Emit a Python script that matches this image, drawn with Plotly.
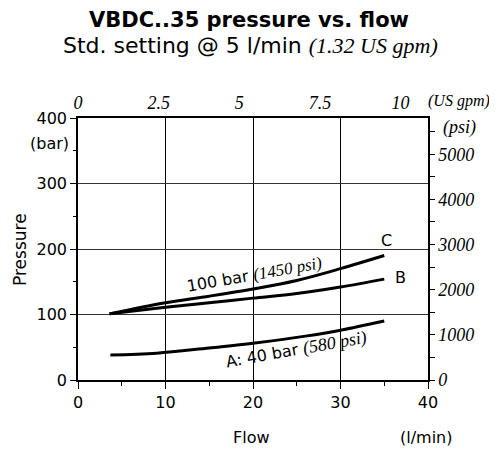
import plotly.graph_objects as go

# curve data: flow (l/min) -> pressure (bar)
flow_c = [3.6, 10, 15, 20, 25, 30, 35]
pres_c = [101, 118, 128, 139, 152, 170, 190]

flow_b = [3.6, 10, 15, 20, 25, 30, 35]
pres_b = [101, 111, 118, 125, 132, 142, 154]

flow_a = [3.7, 9, 15, 20, 26, 30, 35]
pres_a = [38, 41, 49, 56, 67, 76, 90]

x_ticks = [0, 10, 20, 30, 40]
y_ticks = [0, 100, 200, 300, 400]
gpm_ticks = [0, 2.5, 5, 7.5, 10]
psi_ticks = [0, 1000, 2000, 3000, 4000, 5000]

GPM_AXIS_MAX = 10.85  # as drawn in the source chart
PSI_PER_BAR = 14.5038

SANS = "DejaVu Sans"
SERIF = "Liberation Serif"

# plot area on screen (the page body adds an 8px offset)
PX0, PX1, PY0, PY1 = 78, 428, 118, 380
OFF = 8


def serif(txt, size):
    return "<span style='font-family:" + SERIF + ";font-size:" + str(size) + "px'><i>" + txt + "</i></span>"


fig = go.Figure()

for fx, py in [(flow_a, pres_a), (flow_b, pres_b), (flow_c, pres_c)]:
    fig.add_trace(go.Scatter(x=fx, y=py, mode="lines", line=dict(color="black", width=3, shape="spline"),
                             showlegend=False, hoverinfo="skip"))

# invisible traces so the secondary axes get drawn
fig.add_trace(go.Scatter(x=[0], y=[0], xaxis="x2", yaxis="y", mode="markers", marker=dict(opacity=0),
                         showlegend=False, hoverinfo="skip"))
fig.add_trace(go.Scatter(x=[0], y=[0], xaxis="x", yaxis="y2", mode="markers", marker=dict(opacity=0),
                         showlegend=False, hoverinfo="skip"))

axis_common = dict(showline=True, linecolor="black", linewidth=1.5, zeroline=False)
serif_ital = dict(family=SERIF, size=18, style="italic", color="black")

fig.update_layout(
    width=497, height=450,
    margin=dict(l=PX0 - OFF, r=497 - (PX1 - OFF), t=PY0 - OFF, b=450 - (PY1 - OFF)),
    paper_bgcolor="white", plot_bgcolor="white",
    font=dict(family=SANS, size=16, color="black"),
    xaxis=dict(range=[0, 40], tickvals=x_ticks, ticks="outside", ticklen=7, tickcolor="black",
               showgrid=True, gridcolor="black", gridwidth=1,
               minor=dict(dtick=5, ticks="outside", ticklen=4, tickcolor="black", showgrid=False),
               **axis_common),
    yaxis=dict(range=[0, 400], tickvals=y_ticks, ticks="outside", ticklen=6, tickcolor="black",
               showgrid=True, gridcolor="#333", gridwidth=1,
               minor=dict(dtick=50, ticks="outside", ticklen=3, tickcolor="black", showgrid=False),
               **axis_common),
    xaxis2=dict(range=[0, GPM_AXIS_MAX], overlaying="x", side="top", anchor="y",
                tickvals=gpm_ticks, ticktext=[str(v) for v in gpm_ticks], ticks="",
                tickfont=serif_ital, showgrid=False, **axis_common),
    yaxis2=dict(range=[0, 400 * PSI_PER_BAR], overlaying="y", side="right", anchor="x",
                tickvals=psi_ticks, ticks="outside", ticklen=5, tickcolor="black",
                minor=dict(dtick=500, ticks="outside", ticklen=5, tickcolor="black"),
                tickfont=serif_ital, showgrid=False, **axis_common),
)

# free texts, positioned in screen pixels
anns = [
    dict(text="<b>VBDC..35 pressure vs. flow</b>", x=249, y=20, size=21, family=SANS),
    dict(text="Std. setting @ 5 l/min " + serif("(1.32 US gpm)", 22), x=250, y=45, size=22, family=SANS),
    dict(text="Pressure", x=20, y=250, size=17, family=SANS, angle=-90),
    dict(text="(bar)", x=49, y=143, size=16, family=SANS),
    dict(text="Flow", x=251, y=437, size=16, family=SANS),
    dict(text="(l/min)", x=426, y=437, size=16, family=SANS),
    dict(text="<i>(psi)</i>", x=459, y=127, size=18, family=SERIF),
    dict(text="<i>(US gpm)</i>", x=459, y=101, size=16, family=SERIF),
]
for a in anns:
    fig.add_annotation(text=a["text"], x=(a["x"] - PX0) / (PX1 - PX0), y=(PY1 - a["y"]) / (PY1 - PY0),
                       xref="paper", yref="paper", showarrow=False, textangle=a.get("angle", 0),
                       font=dict(family=a["family"], size=a["size"], color="black"),
                       xanchor="center", yanchor="middle")

# curve labels in data coordinates
curve_labels = [
    ("C", 35.3, 213, 0),
    ("B", 36.8, 156, 0),
    ("100 bar " + serif("(1450 psi)", 17), 20.2, 161, -10),
    ("A: 40 bar " + serif("(580 psi)", 18), 25, 46, -10),
]
for text, lx, ly, ang in curve_labels:
    fig.add_annotation(text=text, x=lx, y=ly, xref="x", yref="y", showarrow=False, textangle=ang,
                       font=dict(family=SANS, size=16, color="black"))

fig.write_html("out.html")
